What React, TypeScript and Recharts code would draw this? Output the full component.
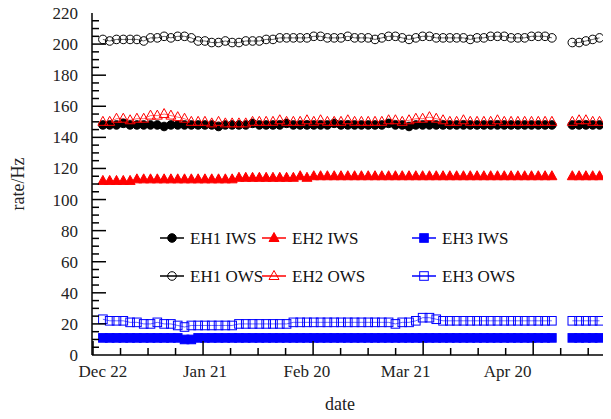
import React from "react";
import { LineChart, Line, XAxis, YAxis } from "recharts";

const days: number[] = Array.from({ length: 74 }, (_, i) => i * 2);
const eh1Ows = [203,202,203,203,203,203,202,204,204,205,204,205,205,204,202,202,201,201,202,201,201,202,202,202,203,203,204,204,204,204,204,205,205,204,204,204,205,204,204,204,203,204,205,205,204,203,204,205,205,204,204,204,204,204,203,204,204,205,205,205,204,204,204,205,205,205,204,null,null,201,201,202,203,204];
const eh1Iws = [148,148,148,149,148,148,148,148,148,147,148,148,148,148,148,148,148,147,148,148,148,148,149,148,148,148,148,149,148,148,148,148,148,148,149,148,148,148,148,148,148,148,149,148,148,147,148,148,148,148,148,148,148,148,148,148,148,148,148,148,148,148,148,148,148,148,148,null,null,148,148,148,148,148];
const eh2Ows = [150,150,152,152,151,152,152,154,154,155,154,153,152,150,150,150,149,150,149,149,149,149,150,150,150,150,151,150,150,150,151,150,151,150,150,150,151,150,150,150,150,150,151,151,150,151,152,152,153,152,151,150,150,151,150,150,150,150,151,150,150,150,150,150,150,150,150,null,null,150,151,151,150,150];
const eh2Iws = [112,112,112,112,112,113,113,113,113,113,113,113,113,113,113,113,113,113,113,113,114,114,114,114,114,114,114,114,114,115,114,115,115,115,115,115,115,115,115,115,115,115,115,115,115,115,115,115,115,115,115,115,115,115,115,115,115,115,115,115,115,115,115,115,115,115,115,null,null,115,115,115,115,115];
const eh3Ows = [23,22,22,22,21,21,20,20,21,20,20,19,18,19,19,19,19,19,19,19,20,20,20,20,20,20,20,20,21,21,21,21,21,21,21,21,21,21,21,21,21,21,21,20,21,21,22,24,24,23,22,22,22,22,22,22,22,22,22,22,22,22,22,22,22,22,22,null,null,22,22,22,22,22];
const eh3Iws = [11,11,11,11,11,11,11,11,11,11,11,11,10,10,11,11,11,11,11,11,11,11,11,11,11,11,11,11,11,11,11,11,11,11,11,11,11,11,11,11,11,11,11,11,11,11,11,11,11,11,11,11,11,11,11,11,11,11,11,11,11,11,11,11,11,11,11,null,null,11,11,11,11,11];

const xLabelDays = [0, 30, 60, 89, 119];
const xLabels = ["Dec 22", "Jan 21", "Feb 20", "Mar 21", "Apr 20"];
const yLabels = [0, 20, 40, 60, 80, 100, 120, 140, 160, 180, 200, 220];

const data = days.map((d, i) => ({
  day: d,
  eh1Iws: eh1Iws[i] ?? null,
  eh2Iws: eh2Iws[i] ?? null,
  eh3Iws: eh3Iws[i] ?? null,
  eh1Ows: eh1Ows[i] ?? null,
  eh2Ows: eh2Ows[i] ?? null,
  eh3Ows: eh3Ows[i] ?? null,
}));

const FONT = "Liberation Serif";
const X_DOMAIN: [number, number] = [-3.2, 148.2];
const PLOT = { left: 92, right: 607, top: 13, bottom: 355 };
const xPx = (d: number) => PLOT.left + ((d - X_DOMAIN[0]) / (X_DOMAIN[1] - X_DOMAIN[0])) * (PLOT.right - PLOT.left);
const yPx = (v: number) => PLOT.bottom - (v / 220) * (PLOT.bottom - PLOT.top);

const xMarks: { d: number; major: boolean }[] = [];
for (let k = 0; k < 19; k++) xMarks.push({ d: -2.9 + k * 8.0875, major: k % 4 === 0 });
const yMarks: { v: number; major: boolean }[] = [];
for (let v = 5; v < 220; v += 5) yMarks.push({ v, major: v % 20 === 0 });

const XTick = (p: any) => {
  const { x, y, payload } = p;
  const i = xLabelDays.indexOf(payload.value);
  return <text x={x} y={y + 14} textAnchor="middle" fontFamily={FONT} fontSize={17} fill="#222">{xLabels[i]}</text>;
};
const YTick = (p: any) => {
  const { x, y, payload } = p;
  return <text x={x - 6} y={y + 6} textAnchor="end" fontFamily={FONT} fontSize={17} fill="#222">{payload.value}</text>;
};

const dotFor = (shape: string, color: string, filled: boolean) => (props: any) => {
  const { cx, cy, index } = props;
  if (cx == null || cy == null || props.value == null) return <g key={index} />;
  const fill = filled ? color : "none";
  if (shape === "circle") return <circle key={index} cx={cx} cy={cy} r={4.3} fill={fill} stroke={color} strokeWidth={1} />;
  if (shape === "tri") return <path key={index} d={`M${cx},${cy - 5.5}L${cx + 5},${cy + 3.5}L${cx - 5},${cy + 3.5}Z`} fill={fill} stroke={color} strokeWidth={1} />;
  return <rect key={index} x={cx - 4.3} y={cy - 4.3} width={8.6} height={8.6} fill={fill} stroke={color} strokeWidth={1} />;
};

const series = [
  { key: "eh1Iws", name: "EH1 IWS", color: "#000", shape: "circle", filled: true },
  { key: "eh2Iws", name: "EH2 IWS", color: "#f00", shape: "tri", filled: true },
  { key: "eh3Iws", name: "EH3 IWS", color: "#00f", shape: "sq", filled: true },
  { key: "eh1Ows", name: "EH1 OWS", color: "#000", shape: "circle", filled: false },
  { key: "eh2Ows", name: "EH2 OWS", color: "#f00", shape: "tri", filled: false },
  { key: "eh3Ows", name: "EH3 OWS", color: "#00f", shape: "sq", filled: false },
];

const legendPos = [
  { x: 160, y: 238 }, { x: 262, y: 238 }, { x: 412, y: 238 },
  { x: 160, y: 276 }, { x: 262, y: 276 }, { x: 412, y: 276 },
];

export default function App() {
  return (
    <div style={{ position: "relative", width: 611, height: 419, margin: -8, background: "#fff" }}>
      <LineChart width={611} height={419} data={data} margin={{ top: 13, right: 4, bottom: 24, left: 32 }}>
        <XAxis dataKey="day" type="number" domain={X_DOMAIN} ticks={xLabelDays} tick={<XTick />} tickLine={false} interval={0} axisLine={{ stroke: "#000", strokeWidth: 1.5 }} height={40} />
        <XAxis xAxisId="top" orientation="top" dataKey="day" type="number" domain={X_DOMAIN} tick={false} tickLine={false} axisLine={{ stroke: "#000", strokeWidth: 1 }} height={0} />
        <YAxis type="number" domain={[0, 220]} ticks={yLabels} tick={<YTick />} tickLine={false} interval={0} axisLine={{ stroke: "#000", strokeWidth: 1.5 }} width={60} />
        <YAxis yAxisId="right" orientation="right" domain={[0, 220]} tick={false} tickLine={false} axisLine={{ stroke: "#000", strokeWidth: 1 }} width={0} />
        {series.map((s) => (
          <Line key={s.key} dataKey={s.key} stroke={s.color} strokeWidth={0.6} dot={dotFor(s.shape, s.color, s.filled)} isAnimationActive={false} connectNulls={false} />
        ))}
      </LineChart>
      <svg width={611} height={419} style={{ position: "absolute", left: 0, top: 0, pointerEvents: "none" }}>
        {xMarks.map((m, i) => (
          <line key={"xm" + i} x1={xPx(m.d)} x2={xPx(m.d)} y1={PLOT.bottom} y2={PLOT.bottom - (m.major ? 14 : 7)} stroke="#000" strokeWidth={1.5} />
        ))}
        {yMarks.map((m, i) => (
          <line key={"ym" + i} x1={PLOT.left} x2={PLOT.left + (m.major ? 14 : 7)} y1={yPx(m.v)} y2={yPx(m.v)} stroke="#000" strokeWidth={1.5} />
        ))}
        <text x={340} y={410} textAnchor="middle" fontFamily={FONT} fontSize={18} fill="#222">date</text>
        <text x={0} y={0} transform="translate(24,184) rotate(-90)" textAnchor="middle" fontFamily={FONT} fontSize={18} fill="#222">rate/Hz</text>
        {series.map((s, i) => {
          const p = legendPos[i];
          const D = dotFor(s.shape, s.color, s.filled);
          return (
            <g key={s.key}>
              <line x1={p.x} x2={p.x + 24} y1={p.y} y2={p.y} stroke={s.color} strokeWidth={1.5} />
              {D({ cx: p.x + 12, cy: p.y, index: i, value: 1 })}
              <text x={p.x + 30} y={p.y + 6} fontFamily={FONT} fontSize={17} fill="#111">{s.name}</text>
            </g>
          );
        })}
      </svg>
    </div>
  );
}
